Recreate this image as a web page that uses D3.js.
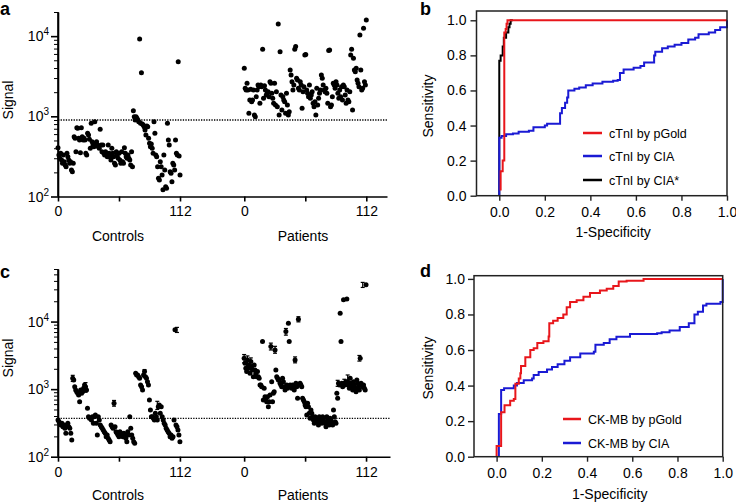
<!DOCTYPE html>
<html><head><meta charset="utf-8">
<script src="https://cdn.jsdelivr.net/npm/d3@7"></script>
<style>
body{margin:0;background:#fff;}
svg{display:block;font-family:"Liberation Sans",Arial,Helvetica,sans-serif;}
</style></head><body>
<svg id="chart" width="736" height="504"></svg>
<script>
// ---------- DATA ----------
const controlsA = [406,329,299,346,285,259,329,272,247,235,346,313,285,259,272,214,204,259,
557,532,362,721,708,532,506,352,721,557,506,532,506,346,329,614,584,517,399,818,482,439,418,
857,460,482,439,418,399,689,439,362,439,346,329,362,346,313,439,346,313,285,399,346,313,259,247,
362,329,299,346,285,259,362,272,259,406,346,313,299,329,299,285,247,362,235,
1175,990,900,990,944,900,857,9200,818,3500,802,780,742,675,584,757,742,532,460,418,
451,399,346,857,614,329,313,235,169,161,272,235,185,121,329,214,132,127,818,506,439,
204,195,153,259,247,214,506,346,329,4800,320,185];
const patientsA = [3965,2234,2128,2578,2128,1090,1597,2180,1521,1597,2128,1038,989,1756,2128,
2455,2338,1452,2455,2338,6850,1675,2400,2128,1844,1935,2027,1756,2700,2578,1935,1675,1452,2578,
1383,2027,1318,14160,1038,6390,1844,1199,1756,1597,1521,1090,1935,1383,1038,1141,3776,3273,2700,2128,
2455,6850,7400,2979,2837,2234,2128,2700,2455,1259,2027,2338,5810,5900,2128,1935,1756,2455,
1675,1844,2027,1452,1318,1521,1038,2234,1383,1675,1935,2128,3273,2979,2455,2128,2027,2234,1935,1452,
6640,6700,1318,1383,1756,2578,2455,2234,2700,2455,1935,1675,2128,1756,2338,1597,2455,2338,1844,1452,
2128,1597,1521,2027,5810,6850,1199,5290,3776,3597,3965,2837,2578,2338,10320,3776,2128,2234,12500,
2700,2455,15880];
const controlsC = [350,330,312,295,312,278,295,263,222,295,312,278,263,222,177,1449,1368,1089,973,918,
869,820,653,973,869,918,1031,1153,1089,973,521,391,371,371,350,391,312,391,415,312,210,391,350,295,278,263,
249,235,222,198,210,187,177,167,295,278,263,618,278,235,222,210,198,235,222,210,198,222,210,187,167,
235,210,391,263,210,187,167,158,1720,1623,1623,1531,1449,1153,1089,973,1623,1817,1531,1449,1291,1153,
692,492,391,391,371,350,440,391,350,551,583,440,551,391,350,312,295,263,249,235,222,198,210,187,198,350,
7540,295,278,249,210,167];
const patientsC = [2869,2419,2040,1817,2709,2284,2040,1720,2555,2154,1925,1531,2284,1925,1720,1531,
1817,1531,1449,1153,1153,1089,5055,692,1031,774,692,653,774,551,653,820,4264,1291,653,869,918,3807,1925,
1531,1449,1368,1368,1222,1153,1089,1449,1291,1089,973,7110,1153,1031,9470,5055,1153,1089,1031,
1153,1089,973,2709,1222,1089,733,10860,1153,1222,1153,1089,733,692,653,583,551,415,618,551,440,371,
492,440,391,350,312,391,371,350,330,295,391,350,330,312,391,371,330,312,278,391,350,330,295,
371,350,312,295,492,391,330,312,869,733,1222,1153,13310,5055,1222,1089,20950,1222,1153,1291,
21500,1291,1153,1031,1449,1222,1089,973,1291,1153,1031,918,1368,1222,1089,973,2869,1222,1153,1089,
1153,1031,973,34970];
// error bars in panel c: [group (0 controls, 1 patients), point index, low, high]
const errorsC = [[0,15,1300,1600],[0,28,900,1250],[0,57,560,680],[0,88,1500,1950],[0,101,500,660],[0,121,6900,8200],
[1,0,2450,3250],[1,4,2400,3100],[1,8,2250,2900],[1,32,3800,4800],[1,37,3400,4300],[1,50,6300,7900],[1,61,2450,3000],
[1,65,9900,11800],[1,112,1100,1350],[1,120,1150,1400],[1,124,1300,1620],[1,129,1100,1300],[1,138,2600,3150],[1,142,32000,38000]];
const cutoffA = 900;
const cutoffC = 370;
const groupTicks = [0, 56, 112, 171, 227, 283];
const groupTickLabels = ["0", "", "112", "0", "", "112"];
const rocTicks = [0, 0.2, 0.4, 0.6, 0.8, 1.0];

const cTnI_CIAstar = [[0,0],[0,0.77],[0.006,0.80],[0.015,0.85],[0.02,0.90],[0.03,0.93],[0.04,0.96],[0.045,0.98],[0.05,1.0],[0.06,1.0]];
const cTnI_CIA = [[0,0],[0,0.33],[0.01,0.34],[0.03,0.35],[0.06,0.355],[0.085,0.365],[0.13,0.37],[0.15,0.39],[0.2,0.40],[0.21,0.41],
[0.267,0.415],[0.267,0.47],[0.275,0.5],[0.289,0.53],[0.298,0.56],[0.303,0.60],[0.33,0.61],[0.351,0.617],[0.38,0.63],[0.41,0.64],
[0.453,0.65],[0.5,0.655],[0.52,0.66],[0.53,0.70],[0.546,0.72],[0.59,0.73],[0.62,0.74],[0.636,0.76],[0.68,0.80],[0.685,0.82],
[0.715,0.84],[0.74,0.85],[0.77,0.86],[0.8,0.87],[0.83,0.89],[0.86,0.90],[0.875,0.92],[0.92,0.93],[0.948,0.945],[0.97,0.96],[1.0,0.98],[1.0,1.0]];
const cTnI_pGold = [[0.006,0.03],[0.006,0.14],[0.015,0.2],[0.022,0.93],[0.028,0.95],[0.032,0.98],[0.036,1.0],[1.0,1.0]];

const CKMB_pGold = [[0,0],[0,0.06],[0.02,0.25],[0.035,0.29],[0.06,0.315],[0.076,0.325],[0.083,0.41],[0.098,0.44],[0.105,0.47],
[0.108,0.51],[0.127,0.56],[0.149,0.6],[0.164,0.61],[0.18,0.64],[0.207,0.65],[0.23,0.676],[0.233,0.75],[0.25,0.764],[0.27,0.78],
[0.295,0.80],[0.31,0.84],[0.325,0.87],[0.354,0.88],[0.384,0.9],[0.413,0.92],[0.457,0.935],[0.487,0.945],[0.516,0.96],[0.54,0.985],
[0.575,0.99],[0.65,1.0],[1.0,1.0]];
const CKMB_CIA = [[0.01,0],[0.01,0.24],[0.02,0.375],[0.033,0.385],[0.076,0.40],[0.09,0.415],[0.12,0.43],[0.157,0.44],[0.164,0.46],
[0.186,0.477],[0.223,0.49],[0.245,0.505],[0.27,0.52],[0.3,0.54],[0.325,0.56],[0.37,0.58],[0.43,0.59],[0.437,0.63],[0.474,0.64],
[0.5,0.66],[0.53,0.675],[0.59,0.69],[0.71,0.695],[0.73,0.70],[0.765,0.71],[0.81,0.73],[0.85,0.75],[0.875,0.8],[0.89,0.815],
[0.913,0.85],[0.928,0.86],[0.99,0.87],[1.0,0.94],[1.0,1.0]];

const RED = "#e8161b", BLUE = "#1a1ad4", BLACK = "#000";

// ---------- DRAW ----------
const svg = d3.select("#chart");
const FS = 14;

function panelLabel(t, x, y){
  svg.append("text").attr("x", x).attr("y", y).attr("font-size", 18).attr("font-weight", "bold").text(t);
}

function scatterPanel(o){
  const g = svg.append("g");
  const x = d3.scaleLinear().domain([0, o.xMax]).range([58, o.xEnd]);
  const y = d3.scaleLog().domain([100, o.yMax]).range([o.bottom, o.top]);
  const xa = g.append("g").attr("transform", `translate(0,${o.bottom})`)
    .call(d3.axisBottom(x).tickValues(groupTicks).tickFormat((d,i)=>groupTickLabels[i]).tickSize(5).tickPadding(5).tickSizeOuter(0));
  xa.selectAll("text").attr("font-size", FS).attr("font-family", null).attr("fill", "#000");
  xa.selectAll("line,path").attr("stroke", "#000").attr("stroke-width", 1.6);
  const majors = y.ticks().filter(v => Math.abs(Math.log10(v) - Math.round(Math.log10(v))) < 1e-9);
  const minors = y.ticks().filter(v => !majors.includes(v));
  const ya = g.append("g").attr("transform", "translate(58,0)")
    .call(d3.axisLeft(y).tickValues(majors).tickFormat("").tickSize(7).tickSizeOuter(0));
  ya.selectAll("line,path").attr("stroke", "#000").attr("stroke-width", 1.6);
  const ym = g.append("g").attr("transform", "translate(58,0)")
    .call(d3.axisLeft(y).tickValues(minors).tickFormat("").tickSize(4).tickSizeOuter(0));
  ym.select("path").remove();
  ym.selectAll("line").attr("stroke", "#000").attr("stroke-width", 1);
  g.append("line").attr("x1",58).attr("x2",58).attr("y1",o.top).attr("y2",o.bottom).attr("stroke","#000").attr("stroke-width",1.6);
  majors.forEach(v => {
    const t = g.append("text").attr("x", 49).attr("y", y(v) + 5).attr("text-anchor", "end").attr("font-size", FS);
    t.append("tspan").text("10");
    t.append("tspan").attr("dy", -6).attr("font-size", 10).text(Math.round(Math.log10(v)));
  });
  g.append("line").attr("x1", 58).attr("x2", o.xEnd).attr("y1", y(o.cutoff)).attr("y2", y(o.cutoff))
    .attr("stroke", "#000").attr("stroke-width", 1.3).attr("stroke-dasharray", "1.3,1.3");
  const nc = o.controls.length, np = o.patients.length;
  const px = (grp, i) => grp === 0 ? x(i * 112 / (nc - 1)) : x(171 + i * 112 / (np - 1));
  if (o.errors) {
    const eg = g.append("g").attr("stroke", "#000").attr("stroke-width", 1.2);
    o.errors.forEach(e => {
      const cx = px(e[0], e[1]);
      eg.append("line").attr("x1", cx).attr("x2", cx).attr("y1", y(e[2])).attr("y2", y(e[3]));
      eg.append("line").attr("x1", cx - 2).attr("x2", cx + 2).attr("y1", y(e[3])).attr("y2", y(e[3]));
      eg.append("line").attr("x1", cx - 2).attr("x2", cx + 2).attr("y1", y(e[2])).attr("y2", y(e[2]));
    });
  }
  g.append("g").selectAll("circle").data(o.controls).join("circle")
    .attr("cx", (d,i) => px(0, i)).attr("cy", d => y(d)).attr("r", 2.5).attr("fill", "#000");
  g.append("g").selectAll("circle").data(o.patients).join("circle")
    .attr("cx", (d,i) => px(1, i)).attr("cy", d => y(d)).attr("r", 2.5).attr("fill", "#000");
  g.append("text").attr("x", 118).attr("y", o.labelY).attr("text-anchor","middle").attr("font-size", FS).text("Controls");
  g.append("text").attr("x", 303).attr("y", o.labelY).attr("text-anchor","middle").attr("font-size", FS).text("Patients");
  g.append("text").attr("transform", `translate(13,${o.sigY}) rotate(-90)`).attr("text-anchor","middle").attr("font-size", FS).text("Signal");
}

function rocPanel(o){
  const g = svg.append("g");
  const x = d3.scaleLinear().domain([-0.1, 1.0]).range([o.left, o.right]);
  const y = d3.scaleLinear().domain([0, o.yMax]).range([o.bottom, o.top]);
  const xa = g.append("g").attr("transform", `translate(0,${o.bottom})`)
    .call(d3.axisBottom(x).tickValues(rocTicks).tickFormat(d3.format(".1f")).tickSize(5).tickPadding(6).tickSizeOuter(0));
  const ya = g.append("g").attr("transform", `translate(${o.left},0)`)
    .call(d3.axisLeft(y).tickValues(rocTicks).tickFormat(d3.format(".1f")).tickSize(6).tickPadding(o.ypad).tickSizeOuter(0));
  [xa, ya].forEach(a => {
    a.selectAll("text").attr("font-size", FS).attr("font-family", null).attr("fill", "#000");
    a.selectAll("line").attr("stroke", "#222").attr("stroke-width", 1.4);
    a.select("path").remove();
  });
  const line = d3.line().x(d => x(d[0])).y(d => y(d[1])).curve(d3.curveStepAfter);
  o.curves.forEach(c => {
    g.append("path").datum(c.data).attr("d", line).attr("fill", "none").attr("stroke", c.color).attr("stroke-width", 2);
  });
  g.append("rect").attr("x", o.left).attr("y", o.top).attr("width", o.right - o.left).attr("height", o.bottom - o.top)
    .attr("fill", "none").attr("stroke", "#222").attr("stroke-width", 1.5);
  o.legend.forEach((l, i) => {
    const ly = o.legY[i];
    g.append("line").attr("x1", o.legX).attr("x2", o.legX + o.legW).attr("y1", ly).attr("y2", ly).attr("stroke", l.color).attr("stroke-width", 2.5);
    g.append("text").attr("x", o.legX + o.legW + 7).attr("y", ly + 4.5).attr("font-size", 12.5).text(l.label);
  });
  g.append("text").attr("x", (x(0) + x(1)) / 2).attr("y", o.xlabY).attr("text-anchor","middle").attr("font-size", FS).text("1-Specificity");
  g.append("text").attr("transform", `translate(433,${o.senY}) rotate(-90)`).attr("text-anchor","middle").attr("font-size", FS).text("Sensitivity");
}

scatterPanel({controls: controlsA, patients: patientsA, yMax: 20000, top: 12, bottom: 196.5, xMax: 302, xEnd: 387, cutoff: cutoffA, labelY: 241, sigY: 100});
scatterPanel({controls: controlsC, patients: patientsC, errors: errorsC, yMax: 60000, top: 269, bottom: 456.7, xMax: 305, xEnd: 390, cutoff: cutoffC, labelY: 500, sigY: 358});

rocPanel({left: 476.5, right: 727, top: 11, bottom: 195.7, yMax: 1.053, ypad: 4,
  curves: [{data: cTnI_CIAstar, color: BLACK}, {data: cTnI_CIA, color: BLUE}, {data: cTnI_pGold, color: RED}],
  legend: [{label: "cTnI by pGold", color: RED}, {label: "cTnI by CIA", color: BLUE}, {label: "cTnI by CIA*", color: BLACK}],
  legX: 583, legW: 19, legY: [133, 156, 180], xlabY: 237, senY: 106});
rocPanel({left: 474, right: 722.7, top: 275.7, bottom: 456.7, yMax: 1.018, ypad: 3,
  curves: [{data: CKMB_CIA, color: BLUE}, {data: CKMB_pGold, color: RED}],
  legend: [{label: "CK-MB by pGold", color: RED}, {label: "CK-MB by CIA", color: BLUE}],
  legX: 563, legW: 18, legY: [419, 443], xlabY: 499, senY: 368});

panelLabel("a", 0, 15);
panelLabel("b", 420, 15);
panelLabel("c", 0, 278);
panelLabel("d", 420, 277);
</script>
</body></html>
